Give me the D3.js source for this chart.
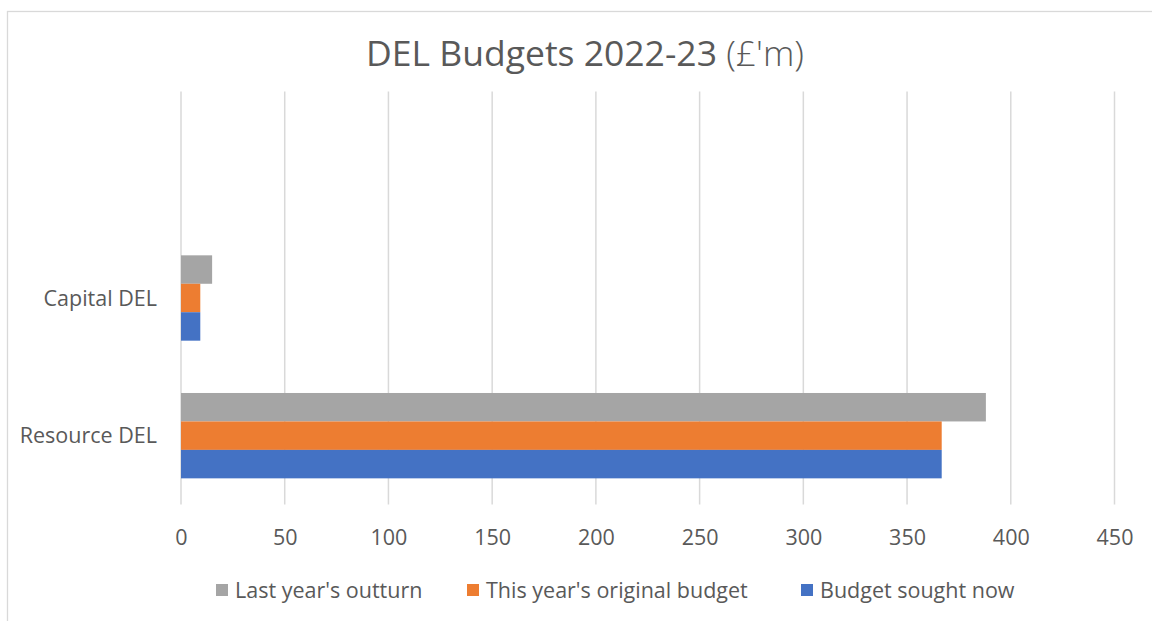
<!DOCTYPE html>
<html>
<head>
<meta charset="utf-8">
<script src="https://cdn.jsdelivr.net/npm/d3@7"></script>
<style>
  html, body { margin: 0; padding: 0; background: #fff; }
  svg { display: block; font-family: "Open Sans", "Noto Sans", sans-serif; }
</style>
</head>
<body>
<svg id="chart" width="1152" height="621"></svg>
<script>
// categories top to bottom (top slot is empty in the source chart)
const categories = ["", "Capital DEL", "Resource DEL"];
const seriesNames = ["Last year's outturn", "This year's original budget", "Budget sought now"];
const lastYearOutturn = [null, 15, 388];
const originalBudget = [null, 9.3, 366.7];
const budgetSoughtNow = [null, 9.3, 366.7];
const xTicks = [0, 50, 100, 150, 200, 250, 300, 350, 400, 450];
const colors = ["#A5A5A5", "#ED7D31", "#4472C4"];

const seriesValues = [lastYearOutturn, originalBudget, budgetSoughtNow];
const rows = categories.map((c, i) => ({
  cat: c,
  vals: seriesNames.map((s, j) => ({ series: s, value: seriesValues[j][i] }))
}));

const svg = d3.select("#chart");
const attr = { left: 181, right: 1114.5, top: 91.5, bottom: 504.5 };
const textColor = "#595959";
const labelSize = "21.5px";

// frame
svg.append("rect")
  .attr("x", 7.5).attr("y", 11.5)
  .attr("width", 1160).attr("height", 640)
  .attr("fill", "none").attr("stroke", "#D9D9D9").attr("stroke-width", 1.3);

// title
const title = svg.append("text")
  .attr("x", 585).attr("y", 66)
  .attr("text-anchor", "middle")
  .style("font-size", "35.5px")
  .style("fill", textColor);
title.append("tspan").text("DEL Budgets 2022-23 ");
title.append("tspan").style("font-weight", 300).text("(£'m)");

const scaleX = d3.scaleLinear().domain([0, 450]).range([attr.left, attr.right]);
const scaleY = d3.scaleBand().domain(categories).range([attr.top, attr.bottom])
  .paddingInner(0.38).paddingOuter(0.19);
const scaleSub = d3.scaleBand().domain(seriesNames).range([0, scaleY.bandwidth()]);

// gridlines
svg.append("g")
  .selectAll("line")
  .data(xTicks)
  .join("line")
  .attr("x1", d => scaleX(d)).attr("x2", d => scaleX(d))
  .attr("y1", attr.top).attr("y2", attr.bottom)
  .attr("stroke", "#D9D9D9").attr("stroke-width", 1.5);

// x axis labels
const axisX = d3.axisBottom(scaleX).tickValues(xTicks).tickSize(0).tickPadding(0);
const gx = svg.append("g")
  .attr("transform", `translate(0, ${attr.bottom})`)
  .call(axisX);
gx.select(".domain").remove();
gx.selectAll("text")
  .attr("y", 40).attr("dy", null)
  .style("font-size", labelSize).style("fill", textColor)
  .style("font-family", "'Open Sans', sans-serif");

// category labels
svg.append("g")
  .selectAll("text")
  .data(categories.filter(c => c !== ""))
  .join("text")
  .attr("x", 157)
  .attr("y", d => scaleY(d) + scaleY.bandwidth() / 2 + 7.5)
  .attr("text-anchor", "end")
  .style("font-size", labelSize).style("fill", textColor)
  .text(d => d);

// bars
const groups = svg.append("g")
  .selectAll("g")
  .data(rows)
  .join("g")
  .attr("transform", d => `translate(0, ${scaleY(d.cat)})`);

groups.selectAll("rect")
  .data(d => d.vals.filter(v => v.value != null))
  .join("rect")
  .attr("x", scaleX(0))
  .attr("y", d => scaleSub(d.series))
  .attr("width", d => scaleX(d.value) - scaleX(0))
  .attr("height", scaleSub.bandwidth())
  .attr("fill", d => colors[seriesNames.indexOf(d.series)]);

// legend
const legendX = [216, 467, 801];
seriesNames.forEach((name, i) => {
  svg.append("rect")
    .attr("x", legendX[i]).attr("y", 584)
    .attr("width", 12).attr("height", 12)
    .attr("fill", colors[i]);
  svg.append("text")
    .attr("x", legendX[i] + 19).attr("y", 598)
    .style("font-size", labelSize).style("fill", textColor)
    .text(name);
});
</script>
</body>
</html>
